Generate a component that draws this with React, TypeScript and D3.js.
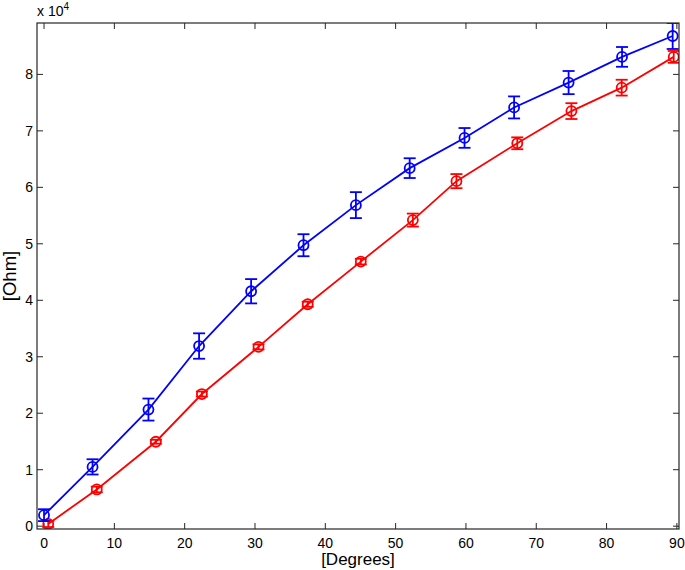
import React from "react";
import * as d3 from "d3";

// blue series (top curve)
const blueX = [0, 6.9, 14.85, 22.05, 29.45, 36.9, 44.35, 52.0, 59.8, 66.85, 74.6, 82.2, 89.4];
const blueY = [1950, 10500, 20650, 31900, 41600, 49750, 56850, 63400, 68750, 74150, 78550, 83100, 86800];
const blueErr = [1050, 1350, 1950, 2250, 2150, 1950, 2300, 1750, 1750, 1950, 2050, 1750, 2300];

// red series (lower curve)
const redX = [0.6, 7.5, 15.9, 22.45, 30.5, 37.5, 45.05, 52.45, 58.65, 67.3, 75.0, 82.15, 89.55];
const redY = [400, 6500, 14950, 23400, 31750, 39300, 46850, 54200, 61100, 67800, 73500, 77650, 83100];
const redErr = [550, 500, 350, 450, 450, 450, 500, 1150, 1250, 1050, 1400, 1400, 1050];

const xTicks = [0, 10, 20, 30, 40, 50, 60, 70, 80, 90];
const yTicks = [0, 1, 2, 3, 4, 5, 6, 7, 8];

const W = 685,
  H = 570;
const margin = { top: 23, right: 6, bottom: 41, left: 37 };
const font = "'Liberation Sans', Arial, Helvetica, sans-serif";

const Series = ({ xs, ys, errs, color, x, y }) => {
  const pts = xs.map((d, i) => [d, ys[i], errs[i]]);
  const line = d3
    .line()
    .x(d => x(d[0]))
    .y(d => y(d[1]));
  const cap = 6;
  return (
    <g stroke={color} fill="none" strokeWidth={1.8}>
      <path d={line(pts)} />
      {pts.map((d, i) => {
        const cx = x(d[0]);
        const y0 = y(d[1] - d[2]),
          y1 = y(d[1] + d[2]);
        return (
          <g key={i}>
            <line x1={cx} x2={cx} y1={y0} y2={y1} />
            <line x1={cx - cap} x2={cx + cap} y1={y0} y2={y0} />
            <line x1={cx - cap} x2={cx + cap} y1={y1} y2={y1} />
            <circle cx={cx} cy={y(d[1])} r={5} />
          </g>
        );
      })}
    </g>
  );
};

export default function App() {
  const x = d3
    .scaleLinear()
    .domain([-1, 90.3])
    .range([margin.left, W - margin.right]);
  const y = d3
    .scaleLinear()
    .domain([-500, 89100])
    .range([H - margin.bottom, margin.top]);

  const left = margin.left,
    right = W - margin.right,
    top = margin.top,
    bottom = H - margin.bottom;
  const tl = 6;

  return (
    <svg
      width={W}
      height={H}
      style={{ position: "absolute", left: 0, top: 0, background: "#fff" }}
      fontFamily={font}
    >
      <defs>
        <clipPath id="plotClip">
          <rect x={left} y={top} width={right - left} height={bottom - top} />
        </clipPath>
      </defs>

      {/* ticks, all four sides, pointing inward */}
      <g stroke="#262626" strokeWidth={1}>
        {xTicks.map(t => (
          <g key={"x" + t}>
            <line x1={x(t)} x2={x(t)} y1={bottom} y2={bottom - tl} />
            <line x1={x(t)} x2={x(t)} y1={top} y2={top + tl} />
          </g>
        ))}
        {yTicks.map(t => (
          <g key={"y" + t}>
            <line x1={left} x2={left + tl} y1={y(t * 1e4)} y2={y(t * 1e4)} />
            <line x1={right} x2={right - tl} y1={y(t * 1e4)} y2={y(t * 1e4)} />
          </g>
        ))}
      </g>

      <g clipPath="url(#plotClip)">
        <Series xs={redX} ys={redY} errs={redErr} color="#ff0000" x={x} y={y} />
        <Series xs={blueX} ys={blueY} errs={blueErr} color="#0000ff" x={x} y={y} />
      </g>

      <rect
        x={left}
        y={top}
        width={right - left}
        height={bottom - top}
        fill="none"
        stroke="#262626"
        strokeWidth={1.2}
      />

      {/* tick labels */}
      <g fontSize={14} fill="#000">
        {xTicks.map(t => (
          <text key={"xl" + t} x={x(t)} y={bottom + 19} textAnchor="middle">
            {t}
          </text>
        ))}
        {yTicks.map(t => (
          <text key={"yl" + t} x={left - 4} y={y(t * 1e4) + 5} textAnchor="end">
            {t}
          </text>
        ))}
        <text x={left} y={16}>
          x 10
          <tspan fontSize={10} dy={-6}>
            4
          </tspan>
        </text>
      </g>

      {/* axis labels */}
      <text x={(left + right) / 2} y={565} textAnchor="middle" fontSize={17}>
        [Degrees]
      </text>
      <text
        transform={`translate(16,${(top + bottom) / 2}) rotate(-90)`}
        textAnchor="middle"
        fontSize={18.5}
      >
        [Ohm]
      </text>
    </svg>
  );
}
